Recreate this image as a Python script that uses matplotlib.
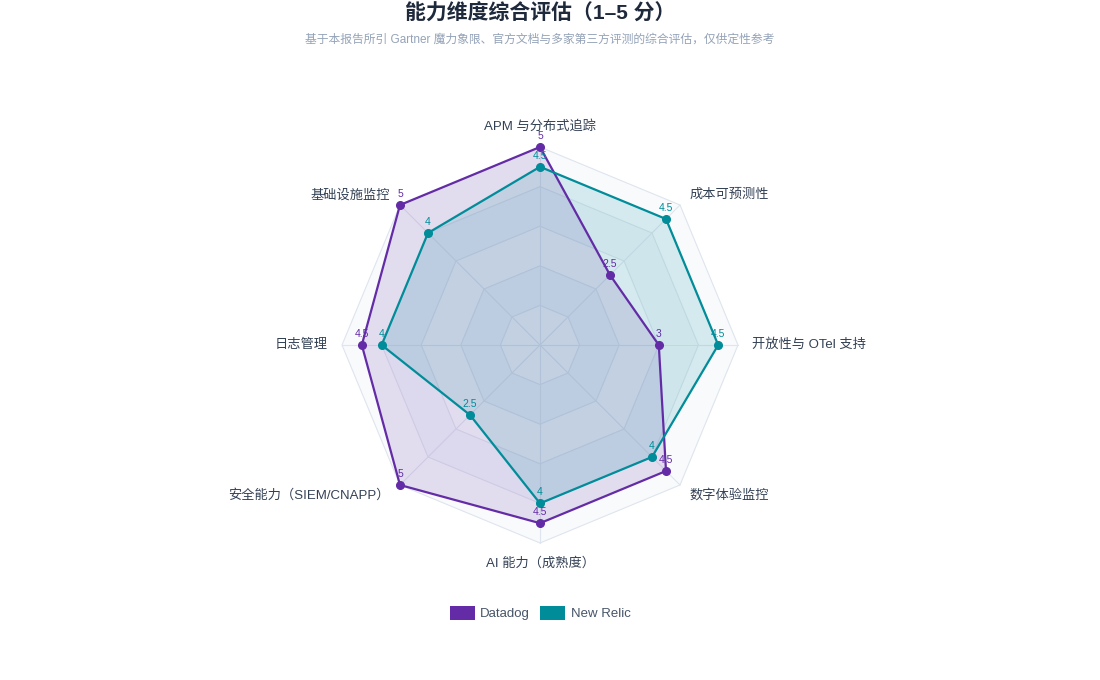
import numpy as np
import matplotlib
matplotlib.use("Agg")
import matplotlib.pyplot as plt
from matplotlib.patches import Polygon, Patch

plt.rcParams['font.family'] = ['Liberation Sans', 'Noto Sans CJK SC', 'DejaVu Sans']

# -----------------------------
# Data
# -----------------------------
categories = ["APM 与分布式追踪", "成本可预测性", "开放性与 OTel 支持", "数字体验监控",
              "AI 能力（成熟度）", "安全能力（SIEM/CNAPP）", "日志管理", "基础设施监控"]
datadog = [5, 2.5, 3, 4.5, 4.5, 5, 4.5, 5]
new_relic = [4.5, 4.5, 4.5, 4, 4, 2.5, 4, 4]
series_names = ["Datadog", "New Relic"]
series_colors = ["#632CA6", "#008C99"]
max_score = 5

# -----------------------------
# Layout (pixel space)
# -----------------------------
fig = plt.figure(figsize=(11, 6.8), dpi=100)
ax = fig.add_axes([0, 0, 1, 1])
ax.set_xlim(0, 1100)
ax.set_ylim(680, 0)
ax.axis("off")

cx, cy, R = 540, 345, 198
n = len(categories)
angles = np.arange(n) * 2 * np.pi / n


def to_xy(values, scale=R / max_score):
    v = np.asarray(values, dtype=float)
    return cx + v * scale * np.sin(angles), cy - v * scale * np.cos(angles)


# split areas + grid rings
band_colors = ["#f1f5f9", "#f8fafc"]
for level in range(max_score, 0, -1):
    x, y = to_xy([level] * n)
    ax.add_patch(Polygon(np.column_stack([x, y]), closed=True,
                         facecolor=band_colors[level % 2], edgecolor="#dfe5ee",
                         linewidth=0.8, zorder=1))
# spokes
ox, oy = to_xy([max_score] * n)
for i in range(n):
    ax.plot([cx, ox[i]], [cy, oy[i]], color="#dfe5ee", linewidth=0.8, zorder=1)

# series
for vals, color in zip([datadog, new_relic], series_colors):
    x, y = to_xy(vals)
    ax.add_patch(Polygon(np.column_stack([x, y]), closed=True,
                         facecolor=color, alpha=0.14, edgecolor="none", zorder=2))
    ax.plot(np.append(x, x[0]), np.append(y, y[0]), color=color,
            linewidth=1.6, zorder=3)
    ax.plot(x, y, "o", color=color, markersize=5.5, zorder=4)
    for xi, yi, v in zip(x, y, vals):
        ax.text(xi, yi - 6, f"{v:g}", color=color, fontsize=7.5,
                ha="center", va="bottom", zorder=5)

# category labels
lx, ly = to_xy([1] * n, scale=R + 14)
for i, label in enumerate(categories):
    s, c = np.sin(angles[i]), np.cos(angles[i])
    ha = "left" if s > 0.01 else ("right" if s < -0.01 else "center")
    if abs(s) > 0.01:
        va = "center"
    else:
        va = "bottom" if c > 0 else "top"
    ax.text(lx[i], ly[i], label, fontsize=9.5, color="#334155", ha=ha, va=va)

# titles
ax.text(540, 14, "能力维度综合评估（1–5 分）", fontsize=15, fontweight="bold",
        color="#1e293b", ha="center", va="center")
ax.text(540, 40, "基于本报告所引 Gartner 魔力象限、官方文档与多家第三方评测的综合评估，仅供定性参考",
        fontsize=8.5, color="#94a3b8", ha="center", va="center")

# legend
handles = [Patch(facecolor=c, edgecolor="none", label=nm)
           for c, nm in zip(series_colors, series_names)]
fig.legend(handles=handles, loc="center", bbox_to_anchor=(540 / 1100, 1 - 613 / 680),
           ncol=2, frameon=False, fontsize=9.5, handlelength=1.9, handleheight=1.3,
           handletextpad=0.4, columnspacing=0.8, labelcolor="#475569")

fig.savefig("out.png", dpi=100)
